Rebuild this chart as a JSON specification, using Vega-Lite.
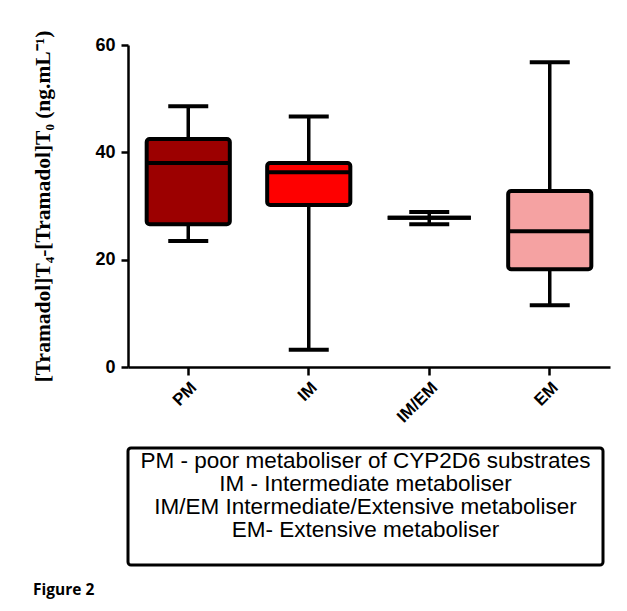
{
  "$schema": "https://vega.github.io/schema/vega-lite/v6.json",
  "background": "white",
  "padding": {"left": 32, "top": 30, "right": 10, "bottom": 10},
  "title": {"text": "Figure 2", "orient": "bottom", "anchor": "start", "font": "Open Sans", "fontWeight": "bold", "fontSize": 15.5, "color": "black", "offset": 16},
  "config": {"view": {"stroke": null}},
  "spacing": 20,
  "vconcat": [
    {
      "width": 482,
      "height": 322,
      "data": {"values": [
        {"group": "PM", "min": 23.5, "q1": 26.6, "median": 38.0, "q3": 42.5, "max": 48.6},
        {"group": "IM", "min": 3.2, "q1": 30.2, "median": 36.3, "q3": 38.0, "max": 46.7},
        {"group": "IM/EM", "min": 26.6, "q1": 27.8, "median": 27.8, "q3": 27.8, "max": 28.9},
        {"group": "EM", "min": 11.5, "q1": 18.2, "median": 25.3, "q3": 32.8, "max": 56.8}
      ]},
      "encoding": {
        "x": {"field": "group", "type": "nominal", "sort": ["PM", "IM", "IM/EM", "EM"],
              "scale": {"paddingInner": 0, "paddingOuter": 0},
              "axis": {"title": null, "labelAngle": -45, "labelFont": "Liberation Sans", "labelFontWeight": "bold", "labelFontSize": 17, "labelColor": "black", "domainColor": "black", "domainWidth": 2.5, "tickColor": "black", "tickWidth": 2.5, "tickSize": 8, "labelPadding": 4}}
      },
      "layer": [
        {"mark": {"type": "rule", "color": "black", "strokeWidth": 3.5},
         "encoding": {"y": {"field": "min", "type": "quantitative", "scale": {"domain": [0, 60]},
                            "axis": {"title": "[Tramadol]T₄-[Tramadol]T₀ (ng.mL⁻¹)", "titleFont": "Liberation Serif", "titleFontWeight": "bold", "titleFontSize": 21.5, "titleColor": "black", "titlePadding": 40,
                                     "values": [0, 20, 40, 60], "grid": false, "labelFont": "Liberation Sans", "labelFontWeight": "bold", "labelFontSize": 18, "labelColor": "black", "domainColor": "black", "domainWidth": 2.5, "tickColor": "black", "tickWidth": 2.5, "tickSize": 7, "labelPadding": 6}},
                      "y2": {"field": "max"}}},
        {"mark": {"type": "bar", "stroke": "black", "strokeWidth": 4, "cornerRadius": 3, "width": {"band": 0.69}},
         "encoding": {"y": {"field": "q1", "type": "quantitative"}, "y2": {"field": "q3"},
                      "color": {"field": "group", "type": "nominal", "legend": null,
                                "scale": {"domain": ["PM", "IM", "IM/EM", "EM"], "range": ["#9c0000", "#fe0000", "#ffffff", "#f5a2a2"]}}}},
        {"mark": {"type": "tick", "color": "black", "thickness": 4, "size": 83, "opacity": 1},
         "encoding": {"y": {"field": "median", "type": "quantitative"}}},
        {"mark": {"type": "tick", "color": "black", "thickness": 4, "size": 40, "opacity": 1},
         "encoding": {"y": {"field": "min", "type": "quantitative"}}},
        {"mark": {"type": "tick", "color": "black", "thickness": 4, "size": 40, "opacity": 1},
         "encoding": {"y": {"field": "max", "type": "quantitative"}}}
      ]
    },
    {
      "width": 475,
      "height": 117,
      "view": {"stroke": "black", "strokeWidth": 3, "cornerRadius": 3},
      "data": {"values": [
        {"line": 1, "text": "PM - poor metaboliser of CYP2D6 substrates"},
        {"line": 2, "text": "IM - Intermediate metaboliser"},
        {"line": 3, "text": "IM/EM Intermediate/Extensive metaboliser"},
        {"line": 4, "text": "EM-  Extensive metaboliser"}
      ]},
      "mark": {"type": "text", "font": "Liberation Sans", "fontSize": 22.5, "color": "black", "baseline": "middle", "align": "center"},
      "encoding": {
        "y": {"field": "line", "type": "quantitative", "scale": {"domain": [0.435, 5.52], "reverse": true, "zero": false, "nice": false}, "axis": null},
        "text": {"field": "text", "type": "nominal"}
      }
    }
  ]
}
